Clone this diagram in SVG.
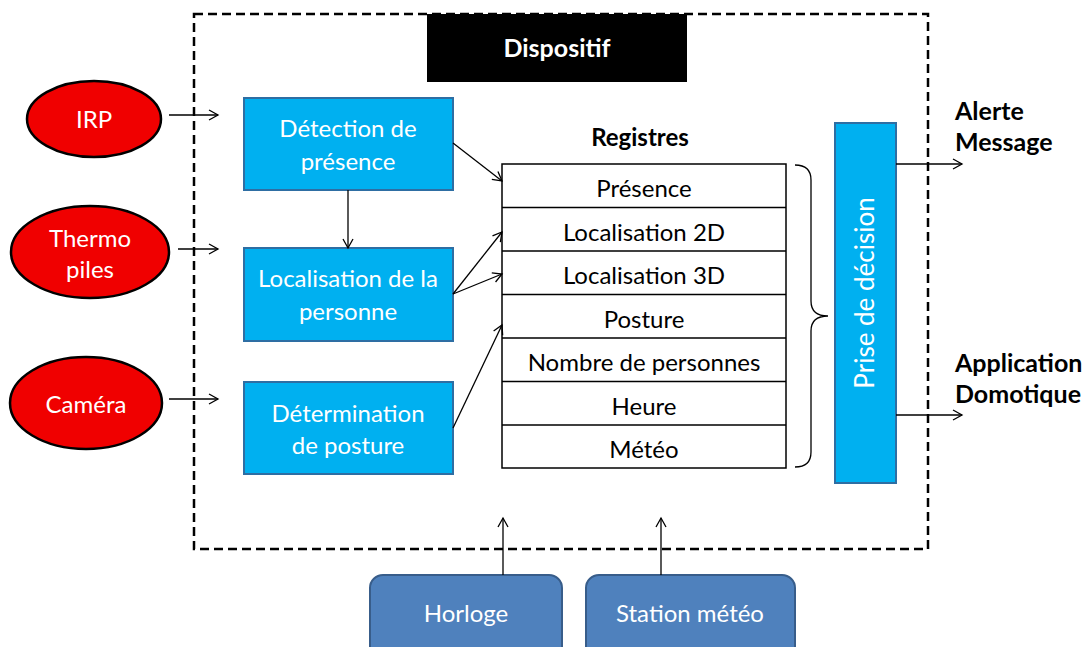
<svg xmlns="http://www.w3.org/2000/svg" width="1087" height="647" viewBox="0 0 1087 647">
<defs>
<marker id="ah" markerWidth="12" markerHeight="12" refX="10" refY="6" orient="auto" markerUnits="userSpaceOnUse">
<path d="M1,1 L10,6 L1,11" fill="none" stroke="#000" stroke-width="1.3"/>
</marker>
<style>
text{font-family:Lato,"Open Sans","Liberation Sans",sans-serif}
.w{fill:#fff;font-size:24px;text-anchor:middle}
.k{fill:#000;font-size:24px;text-anchor:middle}
.b{fill:#000;font-size:25px;font-weight:bold}
.ell{fill:#f00000;stroke:#000;stroke-width:2.5}
.blue{fill:#00b0f0;stroke:#2e6ea3;stroke-width:2}
.rb{fill:#4f81bd;stroke:#385d8a;stroke-width:2}
.reg{fill:#fff;stroke:#000;stroke-width:1.5}
.c{fill:none;stroke:#000;stroke-width:1.3}
.ca{fill:none;stroke:#000;stroke-width:1.3;marker-end:url(#ah)}
</style>
</defs>
<rect width="1087" height="647" fill="#fff"/>
<g id="frame">
<rect x="194" y="14" width="734" height="535" fill="none" stroke="#000" stroke-width="2.5" stroke-dasharray="9,5"/>
</g>
<g id="dispositif">
<rect x="427" y="14" width="260" height="68" fill="#000"/>
<text x="557" y="57" style="fill:#fff;font-size:25px;font-weight:bold;text-anchor:middle">Dispositif</text>
</g>
<g id="irp"><ellipse class="ell" cx="94" cy="119" rx="67" ry="38"/><text class="w" x="94" y="128">IRP</text></g>
<g id="thermo"><ellipse class="ell" cx="90" cy="252" rx="79" ry="46"/><text class="w" x="90" y="247">Thermo</text><text class="w" x="90" y="278">piles</text></g>
<g id="camera"><ellipse class="ell" cx="86" cy="403" rx="76" ry="46"/><text class="w" x="86" y="413">Caméra</text></g>
<g id="detection"><rect class="blue" x="244" y="98" width="209" height="92"/><text class="w" x="348" y="137">Détection de</text><text class="w" x="348" y="170">présence</text></g>
<g id="localisation"><rect class="blue" x="244" y="248" width="209" height="93"/><text class="w" x="348" y="287">Localisation de la</text><text class="w" x="348" y="320">personne</text></g>
<g id="determination"><rect class="blue" x="244" y="382" width="209" height="92"/><text class="w" x="348" y="422">Détermination</text><text class="w" x="348" y="454">de posture</text></g>
<g id="registres">
<text x="640" y="146" style="fill:#000;font-size:24px;font-weight:bold;text-anchor:middle">Registres</text>
<rect class="reg" x="502" y="164" width="284" height="304"/>
<path d="M502,207.5H786M502,251H786M502,294.5H786M502,338H786M502,381.5H786M502,425H786" stroke="#000" stroke-width="1.5"/>
<text class="k" x="644" y="197">Présence</text>
<text class="k" x="644" y="240.5">Localisation 2D</text>
<text class="k" x="644" y="284">Localisation 3D</text>
<text class="k" x="644" y="327.5">Posture</text>
<text class="k" x="644" y="371">Nombre de personnes</text>
<text class="k" x="644" y="414.5">Heure</text>
<text class="k" x="644" y="458">Météo</text>
</g>
<g id="brace"><path class="c" d="M795,165 Q811,165 811,180 V301 Q811,316 828,316 Q811,316 811,331 V452 Q811,467 795,467"/></g>
<g id="decision"><rect class="blue" x="835" y="123" width="61" height="360"/><text class="w" style="font-size:26px" transform="translate(874,293) rotate(-90)">Prise de décision</text></g>
<g id="alerte"><text class="b" x="955" y="120">Alerte</text><text class="b" x="955" y="151">Message</text></g>
<g id="application"><text class="b" x="955" y="372">Application</text><text class="b" x="955" y="403">Domotique</text></g>
<g id="horloge"><rect class="rb" x="370" y="575" width="192" height="90" rx="13"/><text class="w" x="466" y="622">Horloge</text></g>
<g id="station"><rect class="rb" x="586" y="575" width="209" height="90" rx="13"/><text class="w" x="690" y="622">Station météo</text></g>
<g id="connectors">
<path class="ca" d="M169,115H218"/>
<path class="ca" d="M178,249H218"/>
<path class="ca" d="M169,399H218"/>
<path class="ca" d="M348,190V248"/>
<path class="ca" d="M453,143L502,181"/>
<path class="ca" d="M453,294L502,232"/>
<path class="ca" d="M453,294L502,274"/>
<path class="ca" d="M453,428L502,325"/>
<path class="ca" d="M896,164H962"/>
<path class="ca" d="M896,415H962"/>
<path class="ca" d="M503,575V518"/>
<path class="ca" d="M661,575V518"/>
</g>
</svg>
